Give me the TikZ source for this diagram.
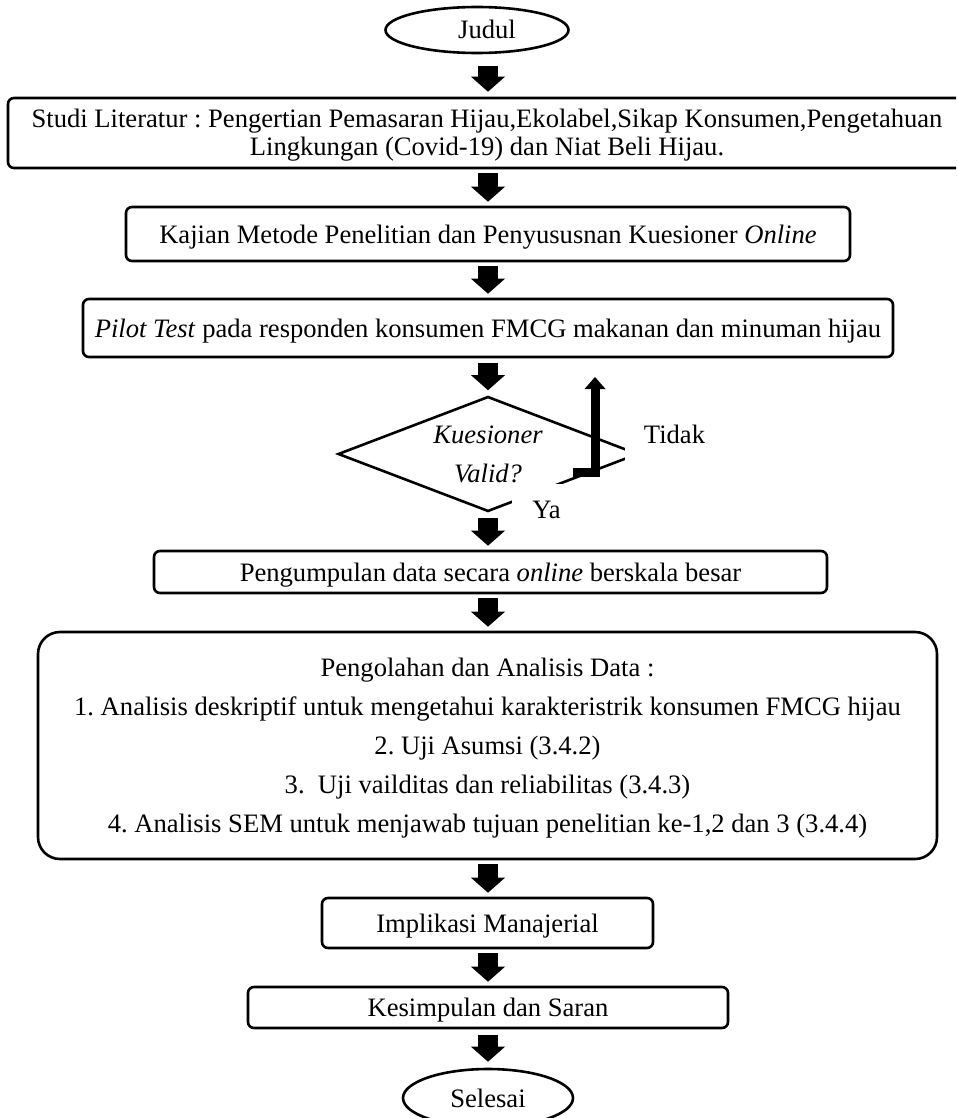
\documentclass[tikz,border=0pt]{standalone}
\usepackage{fontspec}
\setmainfont{Liberation Serif}
\usetikzlibrary{shapes.geometric, arrows.meta, calc}
\frenchspacing

\begin{document}
\begin{tikzpicture}[x=1pt, y=-1pt,
  every node/.style={font=\fontsize{26.6}{30}\selectfont, inner sep=0pt},
  procbox/.style={draw, line width=2.6pt, rounded corners=6pt, text height=20pt, text depth=2pt},
  multibox/.style={draw, line width=2.6pt, align=center},
  terminal/.style={draw, ellipse, line width=2.6pt, text height=20pt, text depth=2pt},
  decision/.style={draw, diamond, aspect=2.6, line width=2.6pt, align=center,
    font=\itshape\fontsize{26.6}{39}\selectfont},
  answer/.style={fill=white, text height=20pt, text depth=2pt},
  flowarrow/.style={line width=20pt, -{Triangle[width=34pt, length=15pt, line width=0pt]}},
  backarrow/.style={line width=9pt, -{Triangle[width=21pt, length=12pt, line width=0pt]}}
]
\useasboundingbox (0,0) rectangle (956,1118);
\clip (0,0) rectangle (956,1118);

% start and end terminals
\node[terminal, minimum width=183pt, minimum height=46pt] (start) at (477,30) {\hspace*{20pt}Judul};
\node[terminal, minimum width=170pt, minimum height=58pt] (stop) at (488,1098) {Selesai};

% process steps
\node[multibox, rounded corners=6pt, minimum width=958pt, minimum height=70pt,
  font=\fontsize{26.6}{28}\selectfont] (lit) at (487,133)
  {\rule{0pt}{23pt}Studi Literatur : Pengertian Pemasaran Hijau,Ekolabel,Sikap Konsumen,Pengetahuan\\
   Lingkungan (Covid-19) dan Niat Beli Hijau.};
\node[procbox, minimum width=724pt, minimum height=54pt] (method) at (488,234)
  {Kajian Metode Penelitian dan Penyususnan Kuesioner \textit{Online}};
\node[procbox, minimum width=810pt, minimum height=58pt] (pilot) at (488,328)
  {\textit{Pilot Test} pada responden konsumen FMCG makanan dan minuman hijau};

% validity check
\node[decision, minimum width=300pt, minimum height=115pt] (valid) at (488,454)
  {Kuesioner\\Valid?};
\node[answer, minimum width=99pt, minimum height=56pt] (no) at (674.5,434) {Tidak};
\node[answer, minimum width=69pt, minimum height=50pt] (yes) at (546.5,509) {Ya};
\coordinate (loopstart) at (573,472);
\coordinate (loopend) at (595,377);
\draw[backarrow] (loopstart) -| (loopend);

\node[procbox, minimum width=673pt, minimum height=42pt] (collect) at (490.5,572)
  {Pengumpulan data secara \textit{online} berskala besar};

\node[multibox, rounded corners=22pt, minimum width=899pt, minimum height=227pt,
  font=\fontsize{26.6}{39}\selectfont] (analysis) at (487.5,745.5)
  {\rule{0pt}{23pt}Pengolahan dan Analisis Data :\\
   1. Analisis deskriptif untuk mengetahui karakteristrik konsumen FMCG hijau\\
   2. Uji Asumsi (3.4.2)\\
   3.\ \ Uji vailditas dan reliabilitas (3.4.3)\\
   4. Analisis SEM untuk menjawab tujuan penelitian ke-1,2 dan 3 (3.4.4)};

\node[procbox, minimum width=331pt, minimum height=50pt] (implic) at (487.5,923)
  {Implikasi Manajerial};
\node[procbox, minimum width=480pt, minimum height=41pt] (concl) at (488,1007.5)
  {Kesimpulan dan Saran};

% downward flow arrows
\draw[flowarrow] ($(start.south -| method.north)+(0,12)$) -- ($(method.north |- lit.north)+(0,-5)$);
\draw[flowarrow] ($(method.north |- lit.south)+(0,4)$) -- ($(method.north)+(0,-4)$);
\draw[flowarrow] ($(method.south)+(0,4)$) -- ($(pilot.north)+(0,-4)$);
\draw[flowarrow] ($(pilot.south)+(0,5)$) -- ($(valid.north)+(0,-5)$);
\draw[flowarrow] ($(valid.south)+(0,5)$) -- ($(valid.south |- collect.north)+(0,-4)$);
\draw[flowarrow] ($(valid.south |- collect.south)+(0,4)$) -- ($(valid.south |- analysis.north)+(0,-4)$);
\draw[flowarrow] ($(valid.south |- analysis.south)+(0,4)$) -- ($(valid.south |- implic.north)+(0,-4)$);
\draw[flowarrow] ($(valid.south |- implic.south)+(0,4)$) -- ($(valid.south |- concl.north)+(0,-4)$);
\draw[flowarrow] ($(valid.south |- concl.south)+(0,6)$) -- ($(stop.north)+(0,-6)$);
\end{tikzpicture}
\end{document}
